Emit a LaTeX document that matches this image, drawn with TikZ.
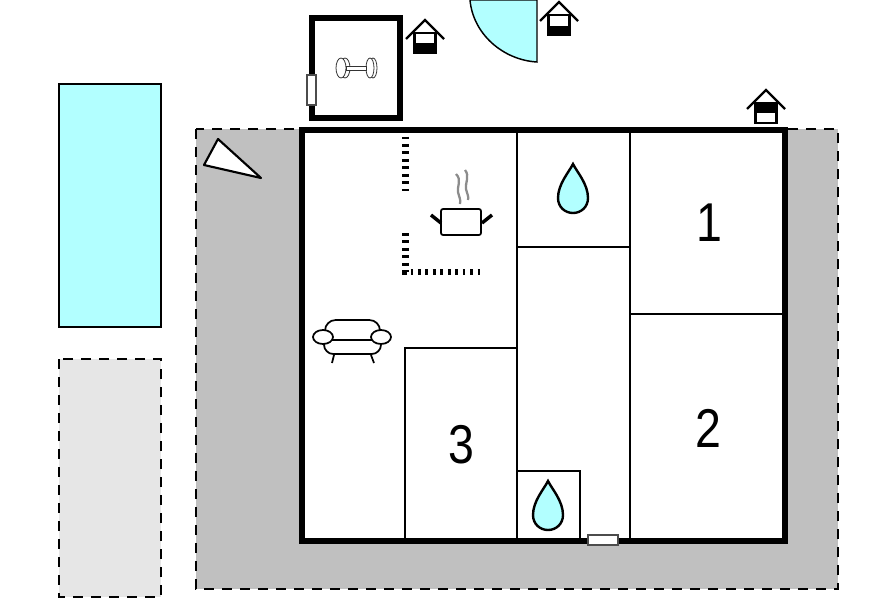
\documentclass[tikz,border=0pt]{standalone}
\usepackage{fontspec}
\setmainfont{Liberation Sans}
\definecolor{waterblue}{RGB}{178,255,255}
\definecolor{terracegrey}{RGB}{192,192,192}
\definecolor{plotgrey}{RGB}{230,230,230}
\tikzset{
  outerwall/.style={line width=3.8pt,line join=miter},
  innerwall/.style={line width=2.2pt},
  thinline/.style={line width=1.6pt},
  dashline/.style={line width=2pt,dash pattern={on 7.5pt off 6pt}},
  tickline/.style={line width=5pt,dash pattern={on 2pt off 3.6pt}},
  roomlabel/.style={inner sep=0pt,font=\fontsize{41}{41}\selectfont},
  doorbox/.style={fill=white,draw=black!70,line width=0.9pt},
  housemark/.pic={
    \begin{scope}[yscale=-1]
    \draw[line width=1.8pt] (-19,19) -- (0,0) -- (19,19);
    \draw[line width=1.8pt] (-10.5,13) -- (10.5,13) -- (10.5,33) -- (-10.5,33) -- cycle;
    \end{scope}
  },
  waterdrop/.pic={
    \begin{scope}[yscale=-1]
    \draw[line width=1.8pt,fill=waterblue] (0,0) .. controls (4,8) and (15,20) .. (15,34) .. controls (15,43) and (8,49) .. (0,49) .. controls (-8,49) and (-15,43) .. (-15,34) .. controls (-15,20) and (-4,8) .. (0,0) -- cycle;
    \end{scope}
  }
}
\begin{document}
\begin{tikzpicture}[x=0.75pt,y=0.75pt,yscale=-1,xscale=1]
\useasboundingbox (0,0) rectangle (896,597);

%Pool
\draw [thinline,fill=waterblue] (59,84) rectangle (161,327);
%Plot below pool
\draw [dashline,fill=plotgrey] (59,359) rectangle (161,597);
%Terrace
\draw [dashline,fill=terracegrey] (196,129) rectangle (838,589);
%Triangle on terrace
\draw [thinline,fill=white,line join=round] (218,139) -- (204,165) -- (261,178) -- cycle;

%House
\draw [outerwall,fill=white] (302,130) rectangle (785,541);
%Inner walls
\draw [innerwall] (517,130) -- (517,541);
\draw [innerwall] (630,130) -- (630,541);
\draw [innerwall] (517,247) -- (630,247);
\draw [innerwall] (630,314) -- (785,314);
\draw [innerwall] (405,541) -- (405,348) -- (517,348);
\draw [innerwall] (517,471) -- (580,471) -- (580,541);
%Door
\draw [doorbox] (588,535) rectangle (618,545);

%Kitchen ticks
\draw [tickline] (405.5,136.5) -- (405.5,192);
\draw [tickline] (405.5,233) -- (405.5,272);
\draw [tickline] (410.5,272) -- (482,272);
\fill (402,270) rectangle (407,275);

%Gym
\draw [outerwall] (312,18) rectangle (400,118);
\draw [doorbox] (307,75) rectangle (316,105);
%Dumbbell
\draw [line width=0.6pt,draw=black!80,fill=white] (345,68) ellipse (5 and 10);
\draw [line width=0.6pt,draw=black!80,fill=white] (341,68) ellipse (5 and 10);
\draw [line width=0.6pt,draw=black!80,fill=white] (373,68) ellipse (4 and 10);
\draw [line width=0.6pt,draw=black!80,fill=white] (370,68) ellipse (4 and 10);
\draw [line width=0.7pt,draw=black!80,fill=white] (346,66) rectangle (366,70);

%Shower outside
\draw [line width=1.1pt,fill=waterblue] (470,0) .. controls (473,34) and (503,60) .. (537,62) -- (537,0) -- cycle;

%Steps marks
\pic at (425,20) {housemark};
\fill (415,43) rectangle (436,53);
\pic at (559,2) {housemark};
\fill (548.5,26) rectangle (569.5,35);
\pic at (766,90) {housemark};
\fill (755.5,103) rectangle (776.5,113);

%Pot
\draw [line width=1.3pt,fill=white,rounded corners=1.5pt] (441,209) -- (441,235) -- (481,235) -- (481,209) -- cycle;
\draw [line width=2.6pt] (431,215) -- (441,223);
\draw [line width=2.6pt] (492,215) -- (482,223);
\draw [line width=1.7pt,draw=black!45] (456,174) .. controls (462,180) and (457,186) .. (458,192) .. controls (459,197) and (461,199) .. (460,204);
\draw [line width=1.7pt,draw=black!45] (465,170) .. controls (470,176) and (465,183) .. (466,189) .. controls (467,194) and (469,196) .. (468,200);

%Sofa
\draw [line width=1.3pt,rounded corners=8pt] (325,332) -- (325,320) -- (380,320) -- (380,332);
\draw [line width=1.3pt,rounded corners=7pt] (324,342) -- (324,354) -- (381,354) -- (381,342);
\draw [line width=1.3pt] (332,340) -- (372,340);
\draw [line width=1.3pt,fill=white] (323,337) ellipse (10 and 7);
\draw [line width=1.3pt,fill=white] (381,337) ellipse (10 and 7);
\draw [line width=1.3pt] (334,355) -- (332,363);
\draw [line width=1.3pt] (371,355) -- (374,363);

%Drops
\pic at (573,164) {waterdrop};
\pic at (548,481) {waterdrop};

%Room numbers
\node [roomlabel] (roomone) at (709,223) {\scalebox{0.85}[1]{1}};
\node [roomlabel] (roomtwo) at (708,428) {\scalebox{0.85}[1]{2}};
\node [roomlabel] (roomthree) at (461,445) {\scalebox{0.85}[1]{3}};

\end{tikzpicture}
\end{document}
